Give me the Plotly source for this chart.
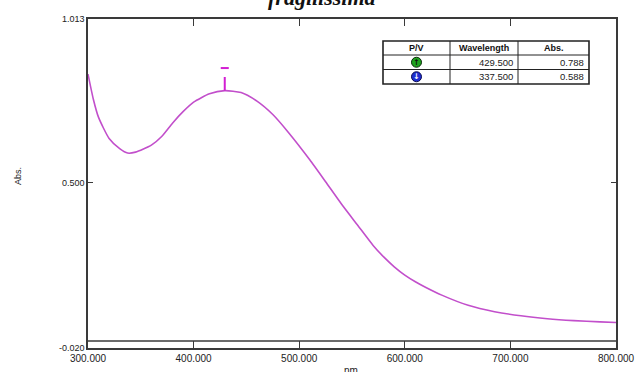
import plotly.graph_objects as go

# ---- data ----
wavelength_nm = [300, 305, 310, 320, 330, 337.5, 345, 360, 370, 380, 390, 400, 415, 429.5,
                 445, 460, 475, 490, 510, 525, 540, 555, 570, 580, 590, 600, 610, 620, 635,
                 660, 685, 710, 735, 760, 785, 800]
absorbance = [0.840, 0.762, 0.704, 0.638, 0.606, 0.592, 0.595, 0.617, 0.645, 0.686, 0.722,
              0.752, 0.778, 0.788, 0.782, 0.755, 0.713, 0.656, 0.571, 0.502, 0.432, 0.367,
              0.302, 0.266, 0.235, 0.209, 0.188, 0.170, 0.146, 0.114, 0.094, 0.081, 0.072,
              0.066, 0.062, 0.060]

x_ticks = [300, 400, 500, 600, 700, 800]
x_tick_labels = ["300.000", "400.000", "500.000", "600.000", "700.000", "800.000"]
y_ticks = [1.013, 0.500, -0.020]
y_tick_labels = ["1.013", "0.500", "-0.020"]

pv_labels = ["P/V", "Wavelength", "Abs."]
pv_wavelength = [429.5, 337.5]
pv_abs = [0.788, 0.588]
pv_colors = ["#1fa31f", "#1f2fd0"]
pv_arrows = ["↑", "↓"]

title_text = "fragilissima"
x_title = "nm"
y_title = "Abs."

# ---- layout geometry ----
W, H = 635, 372
L, R, T, B = 88, 616, 19, 348
pw, ph = R - L, B - T

def px2x(px):
    return (px - L) / pw

def py2y(py):
    return 1 - (py - T) / ph

LINE = "#c24fcb"
FRAME = "#3a3a3a"
SANS = "Liberation Sans, Arial"

fig = go.Figure()
fig.add_trace(go.Scatter(x=wavelength_nm, y=absorbance, mode="lines",
                         line=dict(color=LINE, width=1.6, shape="spline", smoothing=0.6),
                         hoverinfo="skip", showlegend=False))

shapes = []
annotations = []

def ann(x, y, text, size, color="#222", family=SANS, xanchor="center", yanchor="middle", **kw):
    d = dict(x=x, y=y, xref="paper", yref="paper", text=text, showarrow=False,
             xanchor=xanchor, yanchor=yanchor, font=dict(family=family, size=size, color=color))
    d.update(kw)
    annotations.append(d)

# bottom tick strip line
shapes.append(dict(type="line", xref="paper", yref="paper", x0=0, x1=1,
                   y0=py2y(341), y1=py2y(341), line=dict(color=FRAME, width=1.3)))

# peak marker
peak_wl, peak_abs = pv_wavelength[0], pv_abs[0]
shapes.append(dict(type="line", xref="x", yref="y", x0=peak_wl, x1=peak_wl,
                   y0=peak_abs, y1=0.831, line=dict(color="#d21ed2", width=2)))
shapes.append(dict(type="line", xref="x", yref="y", x0=peak_wl - 3.8, x1=peak_wl + 3.8,
                   y0=0.859, y1=0.859, line=dict(color="#d21ed2", width=2)))

# table
tx0, tx1 = 383, 589
col_lines = [450, 518]
row_lines = [41, 55, 69.5, 84]
for cx in col_lines:
    shapes.append(dict(type="line", xref="paper", yref="paper", x0=px2x(cx), x1=px2x(cx),
                       y0=py2y(row_lines[0]), y1=py2y(row_lines[-1]),
                       line=dict(color="#222", width=1)))
for ry in row_lines[1:-1]:
    shapes.append(dict(type="line", xref="paper", yref="paper", x0=px2x(tx0), x1=px2x(tx1),
                       y0=py2y(ry), y1=py2y(ry), line=dict(color="#222", width=1)))
shapes.append(dict(type="rect", xref="paper", yref="paper", x0=px2x(tx0), x1=px2x(tx1),
                   y0=py2y(row_lines[0]), y1=py2y(row_lines[-1]),
                   line=dict(color="#222", width=1.6), fillcolor="rgba(0,0,0,0)"))

col_bounds = [tx0] + col_lines + [tx1]
hy = (row_lines[0] + row_lines[1]) / 2
for i, lab in enumerate(pv_labels):
    cx = (col_bounds[i] + col_bounds[i + 1]) / 2
    ann(px2x(cx), py2y(hy), "<b>" + lab + "</b>", 9, color="#111")
for r in range(len(pv_wavelength)):
    ry = (row_lines[r + 1] + row_lines[r + 2]) / 2
    icx = (col_bounds[0] + col_bounds[1]) / 2
    shapes.append(dict(type="circle", xref="paper", yref="paper",
                       x0=px2x(icx - 5), x1=px2x(icx + 5), y0=py2y(ry + 5), y1=py2y(ry - 5),
                       fillcolor=pv_colors[r],
                       line=dict(color="#0a2a0a" if r == 0 else "#0a0a50", width=1)))
    ann(px2x(icx), py2y(ry), "<b>" + pv_arrows[r] + "</b>", 8,
        color="#111" if r == 0 else "#fff", family="DejaVu Sans")
    ann(px2x(col_bounds[2] - 3), py2y(ry), f"{pv_wavelength[r]:.3f}", 9.5, xanchor="right")
    ann(px2x(col_bounds[3] - 3), py2y(ry), f"{pv_abs[r]:.3f}", 9.5, xanchor="right")

# title (cut off at top like the reference)
ann(px2x(322), py2y(11.5), "<b><i>" + title_text + "</i></b>", 22, color="#111",
    family="Liberation Serif, Times New Roman", yanchor="bottom")
# axis titles
ann(px2x(18), py2y(176), y_title, 9, textangle=-90)
ann(px2x(351), py2y(363), x_title, 10, yanchor="top")

fig.update_layout(
    width=W, height=H,
    margin=dict(l=L, r=W - R, t=T, b=H - B, pad=0, autoexpand=False),
    paper_bgcolor="white", plot_bgcolor="white",
    showlegend=False,
    shapes=shapes, annotations=annotations,
    xaxis=dict(range=[300, 800], tickvals=x_ticks, ticktext=x_tick_labels, automargin=False,
               showgrid=False, zeroline=False, showline=True, linecolor=FRAME, linewidth=1.5,
               mirror="ticks", ticks="inside", ticklen=7, tickcolor=FRAME, tickwidth=1.3,
               tickfont=dict(family=SANS, size=10, color="#222")),
    yaxis=dict(range=[-0.020, 1.013], tickvals=y_ticks, ticktext=y_tick_labels, automargin=False,
               showgrid=False, zeroline=False, showline=True, linecolor=FRAME, linewidth=1.5,
               mirror="ticks", ticks="inside", ticklen=5, tickcolor=FRAME, tickwidth=1.3,
               tickfont=dict(family=SANS, size=9, color="#222")),
)

post = (
    "document.documentElement.style.margin='0px';"
    "document.documentElement.style.overflow='hidden';"
    "document.body.style.margin='0px';"
    "document.body.style.overflow='hidden';"
    "var gd=document.getElementById('{plot_id}');"
    "gd.style.overflow='hidden';"
    "var sc=gd.querySelector('.svg-container'); if(sc){sc.style.overflow='hidden';}"
)

fig.write_html("out.html", config={"displayModeBar": False}, post_script=post)
